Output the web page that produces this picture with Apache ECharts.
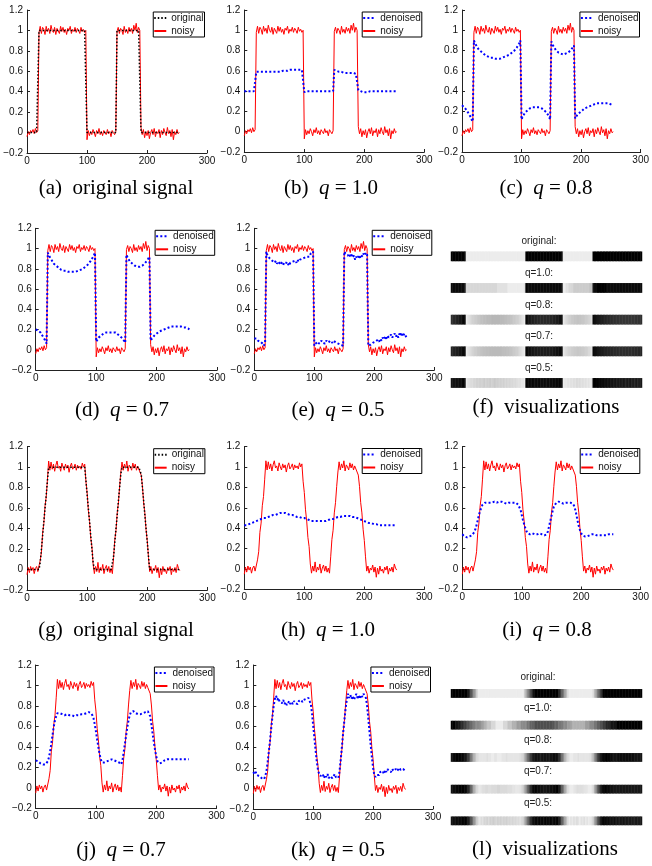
<!DOCTYPE html>
<html><head><meta charset="utf-8">
<script src="https://cdn.jsdelivr.net/npm/echarts@6/dist/echarts.min.js"></script>
<style>html,body{margin:0;padding:0;background:#fff}#c{width:652px;height:866px}</style>
</head><body><div id="c"></div>
<script>
// ---------------- data (samples at x = 0,2,4,...,254) ----------------
const xTickValues = [0, 100, 200, 300];
const yTickValues = [-0.2, 0, 0.2, 0.4, 0.6, 0.8, 1, 1.2];
const sampleStep = 2;

// top row: square-wave signal
const topOriginal = [
0,0,0,0,0,0,0,0,0,0,
1,1,1,1,1,1,1,1,1,1, 1,1,1,1,1,1,1,1,1,1, 1,1,1,1,1,1,1,1,1,1, 1,1,1,1,1,1,1,1,1,1,
0,0,0,0,0,0,0,0,0,0, 0,0,0,0,0,0,0,0,0,0, 0,0,0,0,0,
1,1,1,1,1,1,1,1,1,1, 1,1,1,1,1,1,1,1,1,1,
0,0,0,0,0,0,0,0,0,0, 0,0,0,0,0,0,0,0,0,0, 0,0,0,0,0,0,0,0,0,0, 0,0,0];
const topNoisy = [
-0.04,0.01,-0.02,0.02,0.00,0.03,-0.01,0.04,0.00,0.02,
0.98,1.04,0.97,1.03,1.01,0.96,1.04,0.99,1.02,0.97, 1.05,1.00,0.98,1.03,0.96,1.02,1.01,0.97,1.04,0.99,
1.03,0.98,1.01,0.96,1.02,1.00,1.04,0.97,1.01,0.99, 1.03,0.98,1.02,1.00,0.97,1.03,0.99,1.01,0.98,1.00,
-0.07,0.02,-0.03,0.01,-0.02,0.03,0.00,-0.04,0.02,-0.01, 0.04,-0.02,0.01,-0.03,0.02,0.00,-0.02,0.03,-0.01,0.01, -0.04,0.02,0.00,-0.02,0.01,
0.99,1.03,0.97,1.02,1.00,0.96,1.04,0.98,1.01,0.97, 1.03,0.99,1.02,0.97,1.05,1.00,1.07,0.98,1.03,1.00,
0.05,-0.02,0.03,-0.05,0.01,-0.03,0.02,-0.06,0.00,0.03, -0.02,0.04,-0.04,0.01,-0.01,0.03,-0.05,0.02,-0.02,0.04,
0.00,-0.03,0.05,-0.01,0.02,-0.04,0.03,-0.07,0.01,-0.02, 0.03,-0.01,0.00];
const topDenoisedQ10 = [
0.40,0.40,0.40,0.40,0.40,0.40,0.40,0.40,0.40,0.41,
0.59,0.59,0.59,0.59,0.59,0.59,0.59,0.59,0.59,0.59, 0.59,0.59,0.59,0.59,0.59,0.59,0.59,0.59,0.59,0.59,
0.59,0.60,0.60,0.60,0.60,0.60,0.60,0.60,0.61,0.61, 0.61,0.61,0.61,0.61,0.61,0.61,0.61,0.61,0.61,0.60,
0.39,0.40,0.40,0.40,0.40,0.40,0.40,0.40,0.40,0.40, 0.40,0.40,0.40,0.40,0.40,0.40,0.40,0.40,0.40,0.40, 0.40,0.40,0.40,0.40,0.40,
0.61,0.61,0.60,0.60,0.59,0.59,0.59,0.58,0.58,0.58, 0.58,0.58,0.58,0.58,0.58,0.58,0.58,0.58,0.57,0.57,
0.41,0.40,0.40,0.39,0.39,0.39,0.39,0.39,0.39,0.40, 0.40,0.40,0.40,0.40,0.40,0.40,0.40,0.40,0.40,0.40,
0.40,0.40,0.40,0.40,0.40,0.40,0.40,0.40,0.40,0.40, 0.40,0.40,0.40];
const topDenoisedQ08 = [
0.26,0.25,0.24,0.23,0.21,0.19,0.17,0.15,0.12,0.10,
0.90,0.87,0.85,0.83,0.81,0.80,0.79,0.78,0.77,0.76, 0.75,0.75,0.74,0.74,0.73,0.73,0.73,0.72,0.72,0.72,
0.72,0.72,0.72,0.73,0.73,0.73,0.74,0.74,0.75,0.75, 0.76,0.77,0.78,0.79,0.80,0.81,0.83,0.85,0.87,0.90,
0.12,0.15,0.17,0.19,0.20,0.21,0.22,0.23,0.23,0.24, 0.24,0.24,0.24,0.24,0.24,0.24,0.23,0.23,0.22,0.21, 0.20,0.19,0.17,0.15,0.12,
0.89,0.86,0.84,0.82,0.80,0.79,0.78,0.77,0.77,0.76, 0.76,0.76,0.77,0.77,0.78,0.79,0.80,0.81,0.83,0.85,
0.13,0.15,0.17,0.18,0.19,0.20,0.21,0.22,0.23,0.24, 0.24,0.25,0.25,0.26,0.26,0.27,0.27,0.27,0.28,0.28,
0.28,0.28,0.28,0.28,0.28,0.28,0.28,0.28,0.28,0.27, 0.27,0.27,0.26];
const topDenoisedQ07 = [
0.20,0.20,0.19,0.18,0.17,0.15,0.13,0.11,0.09,0.06,
0.96,0.93,0.91,0.89,0.87,0.85,0.84,0.83,0.82,0.81, 0.80,0.79,0.79,0.78,0.78,0.78,0.77,0.77,0.77,0.77,
0.77,0.77,0.77,0.77,0.78,0.78,0.78,0.79,0.79,0.80, 0.81,0.82,0.83,0.84,0.85,0.87,0.89,0.91,0.93,0.96,
0.08,0.10,0.12,0.13,0.14,0.15,0.16,0.16,0.17,0.17, 0.17,0.17,0.17,0.17,0.17,0.17,0.17,0.16,0.15,0.14, 0.13,0.12,0.11,0.09,0.07,
0.94,0.91,0.89,0.87,0.86,0.85,0.84,0.83,0.83,0.82, 0.82,0.82,0.83,0.83,0.84,0.85,0.86,0.88,0.90,0.92,
0.09,0.11,0.12,0.14,0.15,0.16,0.17,0.18,0.19,0.19, 0.20,0.20,0.21,0.21,0.22,0.22,0.22,0.23,0.23,0.23,
0.23,0.23,0.23,0.23,0.23,0.23,0.23,0.22,0.22,0.22, 0.21,0.21,0.20];
const topDenoisedQ05 = [
0.11,0.10,0.11,0.09,0.10,0.08,0.09,0.06,0.04,0.07,
0.97,0.93,0.92,0.90,0.91,0.88,0.89,0.86,0.88,0.85, 0.87,0.86,0.84,0.87,0.85,0.86,0.84,0.87,0.85,0.83,
0.86,0.85,0.87,0.86,0.88,0.86,0.89,0.87,0.89,0.88, 0.90,0.89,0.91,0.90,0.92,0.93,0.92,0.95,0.94,0.97,
0.04,0.06,0.05,0.08,0.06,0.07,0.09,0.07,0.08,0.06, 0.09,0.08,0.07,0.09,0.08,0.07,0.09,0.08,0.07,0.08, 0.06,0.07,0.05,0.06,0.04,
0.97,0.95,0.96,0.93,0.95,0.92,0.94,0.91,0.93,0.89, 0.92,0.90,0.93,0.91,0.94,0.92,0.95,0.93,0.96,0.94,
0.04,0.03,0.05,0.04,0.07,0.06,0.08,0.07,0.10,0.08, 0.11,0.09,0.12,0.10,0.13,0.11,0.14,0.12,0.13,0.15,
0.12,0.14,0.16,0.13,0.15,0.12,0.16,0.14,0.17,0.13, 0.16,0.15,0.12];

// bottom row: trapezoid signal
const bottomOriginal = [
0,0,0,0,0,0,0,0,0,0,0,
0.07,0.20,0.33,0.47,0.60,0.73,0.87,1.00,
1,1,1,1,1,1,1,1,1,1, 1,1,1,1,1,1,1,1,1,1, 1,1,1,1,1,1,1,1,1,1,
0.87,0.73,0.60,0.47,0.33,0.20,0.07,
0,0,0,0,0,0,0,0,0,0,0,0,0,0,0,0,
0.13,0.27,0.40,0.53,0.67,0.80,0.93,
1,1,1,1,1,1,1,1,1,1,1,1,1,1,1,1,
0.93,0.80,0.67,0.53,0.40,0.27,0.13,
0,0,0,0,0,0,0,0,0,0, 0,0,0,0,0,0,0,0,0,0, 0,0,0,0,0,0];
const bottomNoisy = [
-0.05,0.02,-0.03,0.03,-0.01,0.02,-0.04,0.01,0.03,-0.02,-0.03,
0.09,0.17,0.36,0.45,0.62,0.71,0.88,1.06,
0.97,1.05,0.98,1.03,0.96,1.02,1.06,0.99,1.01,0.96, 1.04,1.00,0.97,1.03,0.99,1.02,0.95,1.01,1.04,0.98,
1.00,1.03,0.97,1.02,0.99,1.01,0.98,1.04,1.00,1.03,
0.86,0.75,0.58,0.47,0.31,0.22,0.05,
-0.04,0.03,-0.02,0.07,-0.03,0.02,-0.01,0.05,-0.04,0.01,0.04,-0.02,0.03,-0.03,0.01,-0.04,
0.12,0.29,0.38,0.55,0.65,0.81,0.95,
1.05,0.97,1.03,0.99,1.06,0.96,1.02,1.00,0.97,1.04,0.99,1.03,0.97,1.01,0.98,0.99,
0.92,0.81,0.65,0.55,0.39,0.28,0.12,
-0.02,0.03,-0.04,0.01,-0.01,0.04,-0.03,0.02,-0.08,0.01, -0.05,0.03,-0.02,0.00,-0.04,0.02,-0.01,0.03,-0.05,0.01,
-0.02,0.02,-0.03,0.05,0.01,-0.01];
const bottomDenoisedQ10 = [
0.43,0.43,0.43,0.44,0.44,0.44,0.45,0.45,0.46,0.46,0.47,
0.47,0.48,0.48,0.49,0.49,0.50,0.50,0.50,
0.50,0.51,0.51,0.52,0.52,0.53,0.53,0.53,0.54,0.54, 0.54,0.55,0.55,0.55,0.55,0.55,0.54,0.54,0.54,0.53,
0.53,0.53,0.52,0.52,0.52,0.51,0.51,0.51,0.50,0.50,
0.50,0.50,0.49,0.49,0.48,0.48,0.48,
0.47,0.47,0.47,0.47,0.47,0.47,0.47,0.47,0.47,0.47,0.47,0.47,0.47,0.48,0.48,0.48,
0.49,0.49,0.49,0.50,0.50,0.50,0.51,
0.51,0.51,0.52,0.52,0.52,0.52,0.52,0.52,0.52,0.52,0.52,0.51,0.51,0.51,0.50,0.50,
0.50,0.49,0.49,0.48,0.48,0.47,0.47,
0.46,0.46,0.45,0.45,0.45,0.44,0.44,0.44,0.44,0.43, 0.43,0.43,0.43,0.43,0.43,0.43,0.43,0.43,0.43,0.43,
0.43,0.43,0.43,0.43,0.43,0.43];
const bottomDenoisedQ08 = [
0.34,0.33,0.32,0.31,0.31,0.31,0.32,0.32,0.33,0.34,0.36,
0.39,0.43,0.48,0.53,0.57,0.60,0.63,0.64,
0.65,0.65,0.65,0.65,0.65,0.64,0.65,0.65,0.66,0.66, 0.65,0.65,0.66,0.66,0.66,0.65,0.65,0.65,0.64,0.65,
0.65,0.65,0.65,0.65,0.65,0.65,0.65,0.64,0.63,0.62,
0.58,0.53,0.48,0.44,0.40,0.37,0.35,
0.34,0.34,0.34,0.35,0.35,0.34,0.34,0.34,0.34,0.35,0.34,0.34,0.33,0.33,0.33,0.34,
0.37,0.42,0.47,0.52,0.57,0.61,0.63,
0.65,0.66,0.66,0.65,0.65,0.65,0.64,0.65,0.65,0.65,0.65,0.65,0.65,0.65,0.64,0.62,
0.58,0.53,0.47,0.42,0.38,0.35,0.33,
0.32,0.32,0.31,0.32,0.32,0.33,0.34,0.34,0.34,0.34, 0.33,0.33,0.33,0.33,0.33,0.33,0.33,0.33,0.33,0.33,
0.33,0.34,0.34,0.34,0.34,0.34];
const bottomDenoisedQ07 = [
0.27,0.26,0.26,0.25,0.24,0.24,0.23,0.23,0.23,0.24,0.26,
0.30,0.36,0.44,0.52,0.60,0.66,0.70,0.73,
0.74,0.73,0.72,0.72,0.71,0.71,0.72,0.72,0.71,0.71, 0.71,0.71,0.70,0.70,0.71,0.71,0.71,0.71,0.71,0.72,
0.72,0.72,0.73,0.73,0.74,0.74,0.74,0.73,0.71,0.68,
0.62,0.55,0.47,0.40,0.33,0.28,0.25,
0.24,0.25,0.26,0.26,0.27,0.27,0.28,0.28,0.27,0.27,0.27,0.26,0.26,0.25,0.24,0.23,
0.27,0.35,0.43,0.51,0.59,0.66,0.71,
0.74,0.75,0.75,0.74,0.73,0.72,0.72,0.72,0.72,0.72,0.73,0.73,0.74,0.75,0.75,0.74,
0.70,0.62,0.53,0.45,0.37,0.31,0.26,
0.25,0.24,0.25,0.25,0.26,0.27,0.27,0.28,0.28,0.28, 0.28,0.28,0.28,0.28,0.28,0.28,0.28,0.28,0.28,0.28,
0.28,0.28,0.28,0.28,0.28,0.28];
const bottomDenoisedQ05 = [
0.16,0.14,0.16,0.13,0.14,0.12,0.13,0.10,0.11,0.09,0.12,
0.17,0.26,0.36,0.47,0.59,0.70,0.80,0.87,
0.90,0.86,0.88,0.84,0.85,0.83,0.86,0.82,0.84,0.81, 0.83,0.85,0.82,0.84,0.82,0.85,0.83,0.84,0.82,0.85,
0.84,0.86,0.84,0.86,0.85,0.87,0.86,0.88,0.85,0.82,
0.73,0.61,0.49,0.37,0.26,0.18,0.14,
0.12,0.11,0.14,0.10,0.13,0.11,0.14,0.10,0.12,0.13,0.10,0.12,0.14,0.11,0.12,0.10,
0.17,0.28,0.41,0.54,0.66,0.77,0.86,
0.92,0.88,0.91,0.87,0.90,0.86,0.89,0.92,0.88,0.90,0.87,0.91,0.89,0.92,0.90,0.88,
0.80,0.68,0.55,0.42,0.30,0.20,0.13,
0.11,0.13,0.14,0.13,0.16,0.15,0.17,0.14,0.18,0.16, 0.19,0.17,0.18,0.16,0.19,0.17,0.18,0.19,0.17,0.18,
0.20,0.18,0.17,0.19,0.18,0.17];

const visLabels = ['original:', 'q=1.0:', 'q=0.8:', 'q=0.7:', 'q=0.5:'];
const topVisRows = [topOriginal, topDenoisedQ10, topDenoisedQ08, topDenoisedQ07, topDenoisedQ05];
const bottomVisRows = [bottomOriginal, bottomDenoisedQ10, bottomDenoisedQ08, bottomDenoisedQ07, bottomDenoisedQ05];

// ---------------- layout ----------------
const W = 652;
const AX = '#222';
const SERIF = '"Liberation Serif","DejaVu Serif",serif';
const SANS = '"Liberation Sans",Arial,sans-serif';
const CAP_SIZE = 21;

const panels = [
  {box:[27,10,180,143],   other:'original', otherData:topOriginal,        noisy:topNoisy,    cap:['a',null,'original signal'], capXY:[116,188]},
  {box:[244.3,10,180,142],other:'denoised', otherData:topDenoisedQ10,     noisy:topNoisy,    cap:['b','1.0'], capXY:[331,188]},
  {box:[462,10,180,142],  other:'denoised', otherData:topDenoisedQ08,     noisy:topNoisy,    cap:['c','0.8'], capXY:[546,188]},
  {box:[35.7,228.3,181.5,141.7], other:'denoised', otherData:topDenoisedQ07, noisy:topNoisy, cap:['d','0.7'], capXY:[122,410]},
  {box:[254.3,228.3,180,141.7],  other:'denoised', otherData:topDenoisedQ05, noisy:topNoisy, cap:['e','0.5'], capXY:[338,410]},
  {box:[27,446.7,180.4,143.3],   other:'original', otherData:bottomOriginal,    noisy:bottomNoisy, cap:['g',null,'original signal'], capXY:[116,630]},
  {box:[244.3,446.5,180,143],    other:'denoised', otherData:bottomDenoisedQ10, noisy:bottomNoisy, cap:['h','1.0'], capXY:[328,630]},
  {box:[462.3,446.5,180,143],    other:'denoised', otherData:bottomDenoisedQ08, noisy:bottomNoisy, cap:['i','0.8'], capXY:[547,630]},
  {box:[35.7,665,180.8,143.5],   other:'denoised', otherData:bottomDenoisedQ07, noisy:bottomNoisy, cap:['j','0.7'], capXY:[121,850]},
  {box:[253.3,665,179.7,144],    other:'denoised', otherData:bottomDenoisedQ05, noisy:bottomNoisy, cap:['k','0.5'], capXY:[338,850]}
];
const visPanels = [
  {rows: topVisRows, left:451, width:191, tops:[251.7,283.3,315,346.7,378.3], h:9.3, labelYs:[241.7,273.3,305,336.7,368.3], labelX:539, cap:'f', capXY:[546,407]},
  {rows: bottomVisRows, left:451, width:191, tops:[689.3,721,753.3,785,816.7], h:8.3, labelYs:[677.3,708.3,740,771.7,803.3], labelX:538, cap:'l', capXY:[545,849]}
];

const grid = [], xAxis = [], yAxis = [], series = [], legend = [], visualMap = [], texts = [];
const xs = topNoisy.map((_, i) => i * sampleStep);
const pairs = arr => arr.map((v, i) => [xs[i], v]);
const fmtY = v => { const r = Math.round(v * 10) / 10; return (r < 0 ? '\u2212' : '') + String(Math.abs(r)); };

function captionText(c) {
  if (c[1] === null) return '{n|(' + c[0] + ')  ' + c[2] + '}';
  return '{n|(' + c[0] + ')  }{i|q}{n| = ' + c[1] + '}';
}
const capRich = {
  n: {fontFamily: SERIF, fontSize: CAP_SIZE, fill: '#000'},
  i: {fontFamily: SERIF, fontSize: CAP_SIZE, fontStyle: 'italic', fill: '#000'}
};
function addCaption(text, xy) {
  texts.push({type:'text', x: xy[0], y: xy[1], silent:true,
    style:{text: text, rich: capRich, align:'center', verticalAlign:'middle', fontFamily: SERIF, fontSize: CAP_SIZE}});
}

panels.forEach((p, g) => {
  const b = p.box;
  grid.push({left: b[0], top: b[1], width: b[2], height: b[3]});
  xAxis.push({gridIndex:g, type:'value', min:0, max:300, interval:100,
    axisLine:{show:true, onZero:false, lineStyle:{color:AX, width:1}},
    axisTick:{show:true, inside:true, length:3, lineStyle:{color:AX}},
    axisLabel:{fontSize:10, fontFamily:SANS, color:'#111', margin:3, showMinLabel:true, showMaxLabel:true},
    splitLine:{show:false}});
  yAxis.push({gridIndex:g, type:'value', min:-0.2, max:1.2, interval:0.2,
    axisLine:{show:true, onZero:false, lineStyle:{color:AX, width:1}},
    axisTick:{show:true, inside:true, length:3, lineStyle:{color:AX}},
    axisLabel:{fontSize:10, fontFamily:SANS, color:'#111', margin:4, formatter: fmtY, showMinLabel:true, showMaxLabel:true},
    splitLine:{show:false}});
  series.push({type:'line', name:'noisy', xAxisIndex:g, yAxisIndex:g, data: pairs(p.noisy),
    symbol:'none', silent:true, z:2, lineStyle:{color:'#ff0000', width:1}, itemStyle:{color:'#ff0000'}});
  if (p.other === 'original') {
    series.push({type:'line', name:'original', xAxisIndex:g, yAxisIndex:g, data: pairs(p.otherData),
      symbol:'none', silent:true, z:3, lineStyle:{color:'#000', width:1.5, type:[1.5,2]}, itemStyle:{color:'#000'}});
  } else {
    series.push({type:'line', name:'denoised', xAxisIndex:g, yAxisIndex:g, data: pairs(p.otherData),
      symbol:'none', silent:true, z:3, lineStyle:{color:'#0000ff', width:2, type:[2,2.2]}, itemStyle:{color:'#0000ff'}});
  }
  legend.push({data:[p.other, 'noisy'], orient:'vertical', right: W - (b[0] + b[2]) + 2.5, top: b[1] + 2,
    itemWidth:12, itemHeight:10, itemGap:3, padding:[1,1,1,0], borderColor:'#000', borderWidth:1,
    backgroundColor:'#fff', selectedMode:false,
    itemStyle:{color:'rgba(0,0,0,0)', borderColor:'rgba(0,0,0,0)', borderWidth:0, opacity:0},
    textStyle:{fontSize:10, fontFamily:SANS, color:'#111'}});
  addCaption(captionText(p.cap), p.capXY);
});

visPanels.forEach(vp => {
  vp.rows.forEach((arr, r) => {
    const g = grid.length;
    grid.push({left: vp.left, top: vp.tops[r], width: vp.width, height: vp.h});
    xAxis.push({gridIndex:g, type:'category', data: xs.map(String), show:false});
    yAxis.push({gridIndex:g, type:'category', data:['row'], show:false});
    const sIdx = series.length;
    series.push({type:'heatmap', xAxisIndex:g, yAxisIndex:g, silent:true,
      data: arr.map((v, i) => [i, 0, v])});
    visualMap.push({type:'continuous', show:false, seriesIndex:sIdx, dimension:2,
      min: Math.min(...arr), max: Math.max(...arr), inRange:{color:['#000000', '#ececec']}});
    texts.push({type:'text', x: vp.labelX, y: vp.labelYs[r], silent:true,
      style:{text: visLabels[r], fontFamily: SANS, fontSize: 10, fill:'#222', align:'center', verticalAlign:'middle'}});
  });
  addCaption('{n|(' + vp.cap + ')  visualizations}', vp.capXY);
});

const chart = echarts.init(document.getElementById('c'), null, {renderer:'canvas'});
chart.setOption({
  animation:false,
  backgroundColor:'#fff',
  grid, xAxis, yAxis, series, legend, visualMap,
  graphic:{elements: texts}
});
</script>
</body></html>
